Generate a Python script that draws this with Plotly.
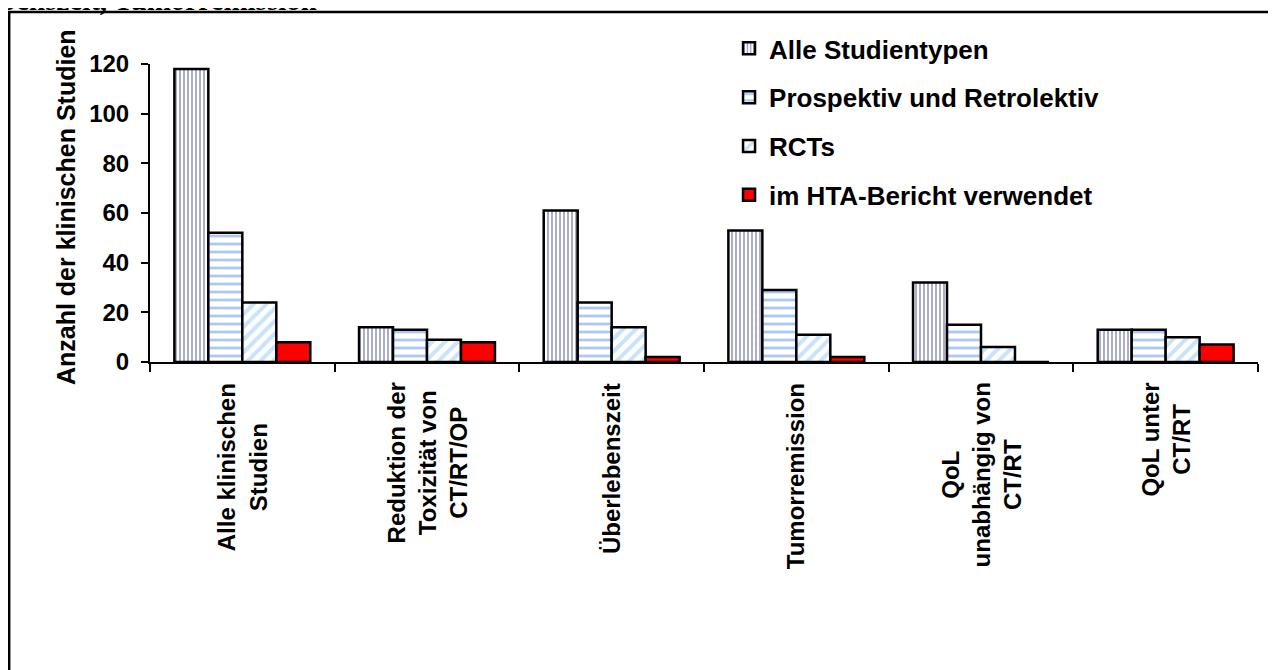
import plotly.graph_objects as go

categories = ["Alle klinischen Studien", "Reduktion der Toxizität von CT/RT/OP",
              "Überlebenszeit", "Tumorremission", "QoL unabhängig von CT/RT",
              "QoL unter CT/RT"]
category_labels = ["Alle klinischen<br>Studien",
                   "Reduktion der<br>Toxizität von<br>CT/RT/OP",
                   "Überlebenszeit",
                   "Tumorremission",
                   "QoL<br>unabhängig von<br>CT/RT",
                   "QoL unter<br>CT/RT"]
series_names = ["Alle Studientypen", "Prospektiv und Retrolektiv", "RCTs",
                "im HTA-Bericht verwendet"]
alle = [118, 14, 61, 53, 32, 13]
prospektiv = [52, 13, 24, 29, 15, 13]
rcts = [24, 9, 14, 11, 6, 10]
hta = [8, 8, 2, 2, 0, 7]
y_ticks = [0, 20, 40, 60, 80, 100, 120]

FONT = "Liberation Sans, Arial, sans-serif"

styles = [
    dict(color="white", pattern=dict(shape="|", fgcolor="#10106e", bgcolor="white",
                                     size=4, solidity=0.35)),
    dict(color="white", pattern=dict(shape="-", fgcolor="#5f90ee", bgcolor="white",
                                     size=8, solidity=0.35)),
    dict(color="white", pattern=dict(shape="/", fgcolor="#92c8f6", bgcolor="white",
                                     size=9, solidity=0.45)),
    dict(color="#ff0000"),
]

fig = go.Figure()
for name, vals, st in zip(series_names, [alle, prospektiv, rcts, hta], styles):
    marker = dict(line=dict(color="black", width=2.5), **st)
    fig.add_trace(go.Bar(x=categories, y=vals, name=name, marker=marker,
                         legendgroup=name))

# category labels (rotated, centered lines)
for cat, lab in zip(categories, category_labels):
    fig.add_annotation(x=cat, xref="x", y=-0.0634, yref="paper", text=lab,
                       textangle=-90, showarrow=False, xanchor="center",
                       yanchor="top", align="center",
                       font=dict(family=FONT, size=24, color="black", weight="bold"))

# y-axis title
fig.add_annotation(x=-0.0758, xref="paper", y=0.52, yref="paper",
                   text="Anzahl der klinischen Studien", textangle=-90,
                   showarrow=False, xanchor="center", yanchor="middle",
                   font=dict(family=FONT, size=25, color="black", weight="bold"))

# cut-off caption at top
fig.add_annotation(x=-0.137, xref="paper", y=1.154, yref="paper",
                   text="benszeit, Tumorremission", showarrow=False,
                   xanchor="left", yanchor="bottom",
                   font=dict(family="Liberation Serif, Times New Roman, serif",
                             size=29, color="black", weight="bold"))

# frame
fig.add_shape(type="rect", xref="paper", yref="paper",
              x0=-0.1271, x1=1.0144, y0=-1.2, y1=1.1745,
              line=dict(color="black", width=2.5), fillcolor="rgba(0,0,0,0)")

fig.update_layout(
    width=1276, height=670,
    margin=dict(l=142, r=26, t=56, b=316),
    paper_bgcolor="white", plot_bgcolor="white",
    font=dict(family=FONT, size=24, color="black", weight="bold"),
    barmode="group", bargap=0.264, bargroupgap=0,
    showlegend=True,
    legend=dict(x=0.5226, y=1.131, xanchor="left", yanchor="top",
                traceorder="grouped", tracegroupgap=12,
                bgcolor="rgba(0,0,0,0)",
                font=dict(family=FONT, size=26, color="black", weight="bold")),
    xaxis=dict(showticklabels=False, ticks="outside", tickson="boundaries",
               ticklen=8, tickwidth=2, tickcolor="black", showline=True,
               linecolor="black", linewidth=2, showgrid=False, zeroline=False),
    yaxis=dict(range=[0, 120], tickvals=y_ticks, ticks="outside", ticklen=7,
               tickwidth=2, tickcolor="black", showline=True, linecolor="black",
               linewidth=2, showgrid=False, zeroline=False,
               ticklabelstandoff=7,
               tickfont=dict(family=FONT, size=24, color="black", weight="bold")),
)

fig.write_html("out.html")
